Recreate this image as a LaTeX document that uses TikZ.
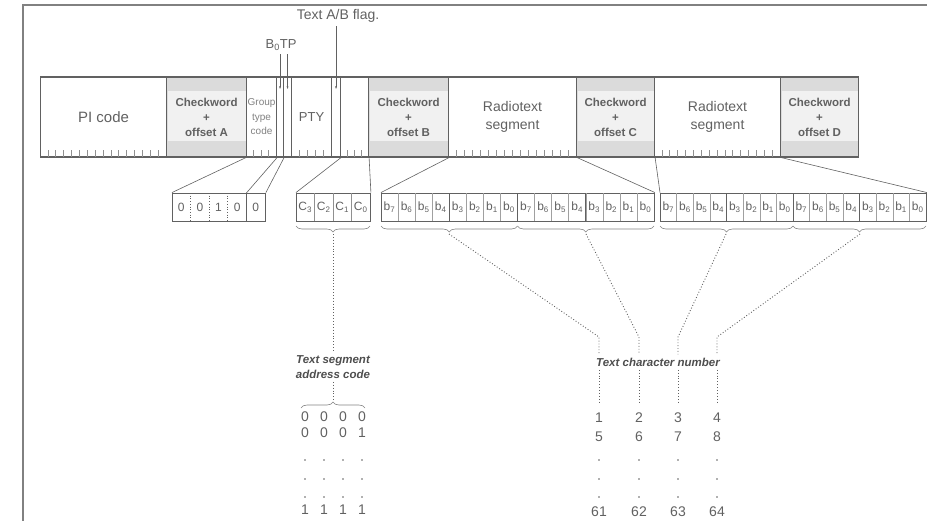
\documentclass[tikz,border=0pt]{standalone}
\usepackage{fontspec}
\setmainfont{Liberation Sans}
\usetikzlibrary{arrows.meta,positioning,calc,decorations.pathreplacing}
\definecolor{ink}{gray}{0.38}

\tikzset{
  field/.style={draw=ink, line width=1.1pt, inner sep=0pt, minimum height=80pt,
    anchor=west, text=ink, align=center},
  check/.style={field, fill=gray!28, font=\bfseries\fontsize{11.5}{15}\selectfont,
    path picture={\fill[gray!11] ($(path picture bounding box.north west)+(1,14)$)
      rectangle ($(path picture bounding box.south east)+(-1,-16)$);}},
  bitbox/.style={draw=ink, line width=0.9pt, inner sep=0pt, minimum height=28pt, anchor=west},
  bit/.style={text=ink, inner sep=0pt, font=\fontsize{12}{14}\selectfont},
  tick/.style={draw=ink!70, line width=0.6pt},
  leader/.style={draw=ink, line width=0.6pt},
  dotline/.style={draw=ink, dotted, line width=0.9pt},
  cbrace/.style={draw=ink!80, line width=0.6pt, decorate, decoration={brace, amplitude=6pt}},
  caption/.style={text=ink!80!black, font=\bfseries\itshape\fontsize{11.5}{14.5}\selectfont, align=center},
  num/.style={text=ink, inner sep=0pt, font=\fontsize{14}{16}\selectfont}
}

\begin{document}
\begin{tikzpicture}[x=1pt,y=-1pt]
  \useasboundingbox (0,0) rectangle (927,520);
  \draw[ink!80, line width=1.3pt] (23,530) -- (23,5) -- (940,5);

  % the four blocks of the group
  \node[field, minimum width=126pt, font=\fontsize{15}{17}\selectfont] (pi) at (40,117) {PI code};
  \node[check, minimum width=80pt] (chkA) at (166,117) {Checkword\\+\\offset A};
  \node[field, minimum width=30pt, text=ink!80, font=\fontsize{10}{14.5}\selectfont] (gtc) at (246,117) {Group\\type\\code};
  \node[field, minimum width=7pt] (bnull) at (276,117) {};
  \node[field, minimum width=8pt] (tp) at (283,117) {};
  \node[field, minimum width=40pt, font=\fontsize{13}{15}\selectfont] (pty) at (291,117) {PTY};
  \node[field, minimum width=9pt] (flag) at (331,117) {};
  \node[field, minimum width=28pt] (cfield) at (340,117) {};
  \node[check, minimum width=80pt] (chkB) at (368,117) {Checkword\\+\\offset B};
  \node[field, minimum width=128pt, font=\fontsize{14}{18}\selectfont] (rtA) at (448,117) {Radiotext\\segment};
  \node[check, minimum width=78pt] (chkC) at (576,117) {Checkword\\+\\offset C};
  \node[field, minimum width=126pt, font=\fontsize{14}{18}\selectfont] (rtB) at (654,117) {Radiotext\\segment};
  \node[check, minimum width=78pt] (chkD) at (780,117) {Checkword\\+\\offset D};

  % bit ticks
  \foreach \i in {1,...,15} {
    \draw[tick] ({40+\i*126/16},150) -- ++(0,7);
    \draw[tick] ({448+\i*8},150) -- ++(0,7);
    \draw[tick] ({654+\i*126/16},150) -- ++(0,7);
  }
  \foreach \x in {253.5,261,268.5,299,307,315,323,347,354,361}
    \draw[tick] (\x,150) -- ++(0,7);

  % flags above the bar
  \node[text=ink, font=\fontsize{14}{16}\selectfont] (abflag) at (338,16) {Text A/B flag.};
  \node[text=ink, font=\fontsize{13}{15}\selectfont] (botp) at (281,45) {B\textsubscript{0}TP};
  \draw[leader, -{Latex[length=3pt,width=2pt]}] (abflag.south -| flag.center) -- ($(flag.north)+(0,13)$);
  \draw[leader, -{Latex[length=3pt,width=2pt]}] (botp.south -| bnull.center) -- ($(bnull.north)+(0,13)$);
  \draw[leader, -{Latex[length=3pt,width=2pt]}] (botp.south -| tp.center) -- ($(tp.north)+(0,13)$);

  % expanded bits
  \node[bitbox, minimum width=93pt] (grp) at (172,207) {};
  \foreach \i/\v in {1/0,2/0,3/1,4/0,5/0}
    \node[bit] (g\i) at ({172+(\i-0.5)*18.6},207) {\v};
  \foreach \i in {1,2,3}
    \draw[ink, dotted, line width=0.7pt] ({172+\i*18.6},193) -- ++(0,28);
  \draw[ink, line width=0.7pt] (246.4,193) -- ++(0,28);
  \coordinate (grpsplit) at (246.4,193);

  \node[bitbox, minimum width=74pt] (cbox) at (296,207) {};
  \foreach \i/\v in {1/3,2/2,3/1,4/0}
    \node[bit] (c\i) at ({296+(\i-0.5)*18.5},207) {C\textsubscript{\v}};
  \foreach \i in {1,2,3}
    \draw[ink!70, line width=0.5pt] ({296+\i*18.5},193) -- ++(0,28);

  \node[bitbox, minimum width=273pt] (bytesA) at (381,207) {};
  \node[bitbox, minimum width=266pt] (bytesB) at (660,207) {};
  \foreach \i/\v in {0/7,1/6,2/5,3/4,4/3,5/2,6/1,7/0,8/7,9/6,10/5,11/4,12/3,13/2,14/1,15/0} {
    \node[bit] (ba\i) at ({381+(\i+0.5)*273/16},207) {b\textsubscript{\v}};
    \node[bit] (bb\i) at ({660+(\i+0.5)*266/16},207) {b\textsubscript{\v}};
  }
  \foreach \i in {1,...,15} {
    \draw[ink!60, line width=0.5pt] ({381+\i*273/16},193) -- ++(0,28);
    \draw[ink!60, line width=0.5pt] ({660+\i*266/16},193) -- ++(0,28);
  }
  \foreach \i in {4,8,12} {
    \draw[ink, line width=0.8pt] ({381+\i*273/16},193) -- ++(0,28);
    \draw[ink, line width=0.8pt] ({660+\i*266/16},193) -- ++(0,28);
  }

  % connectors from the bar
  \draw[leader] (gtc.south west) -- (grp.north west);
  \draw[leader] (gtc.south east) -- (grpsplit);
  \draw[leader] (bnull.south east) -- (grp.north east);
  \draw[leader] (flag.south east) -- (cbox.north west);
  \draw[leader] (cfield.south east) -- (cbox.north east);
  \draw[leader] (chkB.south east) -- (bytesA.north west);
  \draw[leader] (rtA.south east) -- (bytesA.north east);
  \draw[leader] (chkC.south east) -- (bytesB.north west);
  \draw[leader] (rtB.south east) -- (bytesB.north east);

  % braces
  \draw[cbrace, decoration={mirror}] (296,226) -- (370,226);
  \draw[cbrace, decoration={mirror}] (381,226) -- (517.5,226);
  \draw[cbrace, decoration={mirror}] (517.5,226) -- (654,226);
  \draw[cbrace, decoration={mirror}] (660,226) -- (793,226);
  \draw[cbrace, decoration={mirror}] (793,226) -- (926,226);
  \coordinate (tipC) at (333,234);
  \coordinate (tip1) at (449,234);
  \coordinate (tip2) at (586,234);
  \coordinate (tip3) at (726,234);
  \coordinate (tip4) at (860,234);

  % text segment address code
  \node[caption] (addr) at (333,367) {Text segment\\address code};
  \draw[cbrace] (301,408) -- (365,408);
  \coordinate (addrtip) at (333,401);
  \draw[dotline] (tipC) -- (addr.north);
  \draw[dotline] (addr.south) -- (addrtip);
  \foreach \i/\x/\v in {1/305/0,2/324/0,3/343/0,4/362/1} {
    \node[num] (a\i) at (\x,417) {0};
    \node[num] (ab\i) at (\x,433) {\v};
    \node[num] (ac\i) at (\x,510) {1};
    \foreach \y in {460,479,497}
      \fill[ink] (\x,\y) circle (0.8);
  }

  % text character number
  \node[caption] (chn) at (658,362) {Text character number};
  \foreach \i/\x/\a/\b/\c in {1/599/1/5/61,2/639/2/6/62,3/678/3/7/63,4/717/4/8/64} {
    \coordinate (k\i) at (\x,337);
    \node[num] (n\i) at (\x,418) {\a};
    \node[num] (m\i) at (\x,437) {\b};
    \node[num] (z\i) at (\x,512) {\c};
    \foreach \y in {460,479,497}
      \fill[ink] (\x,\y) circle (0.8);
    \draw[dotline] (k\i |- chn.south) -- ($(n\i.north)+(0,-10)$);
  }
  \draw[dotline] (tip1) -- (k1) -- (k1 |- chn.north);
  \draw[dotline] (tip2) -- (k2) -- (k2 |- chn.north);
  \draw[dotline] (tip3) -- (k3) -- (k3 |- chn.north);
  \draw[dotline] (tip4) -- (k4) -- (k4 |- chn.north);
\end{tikzpicture}
\end{document}
